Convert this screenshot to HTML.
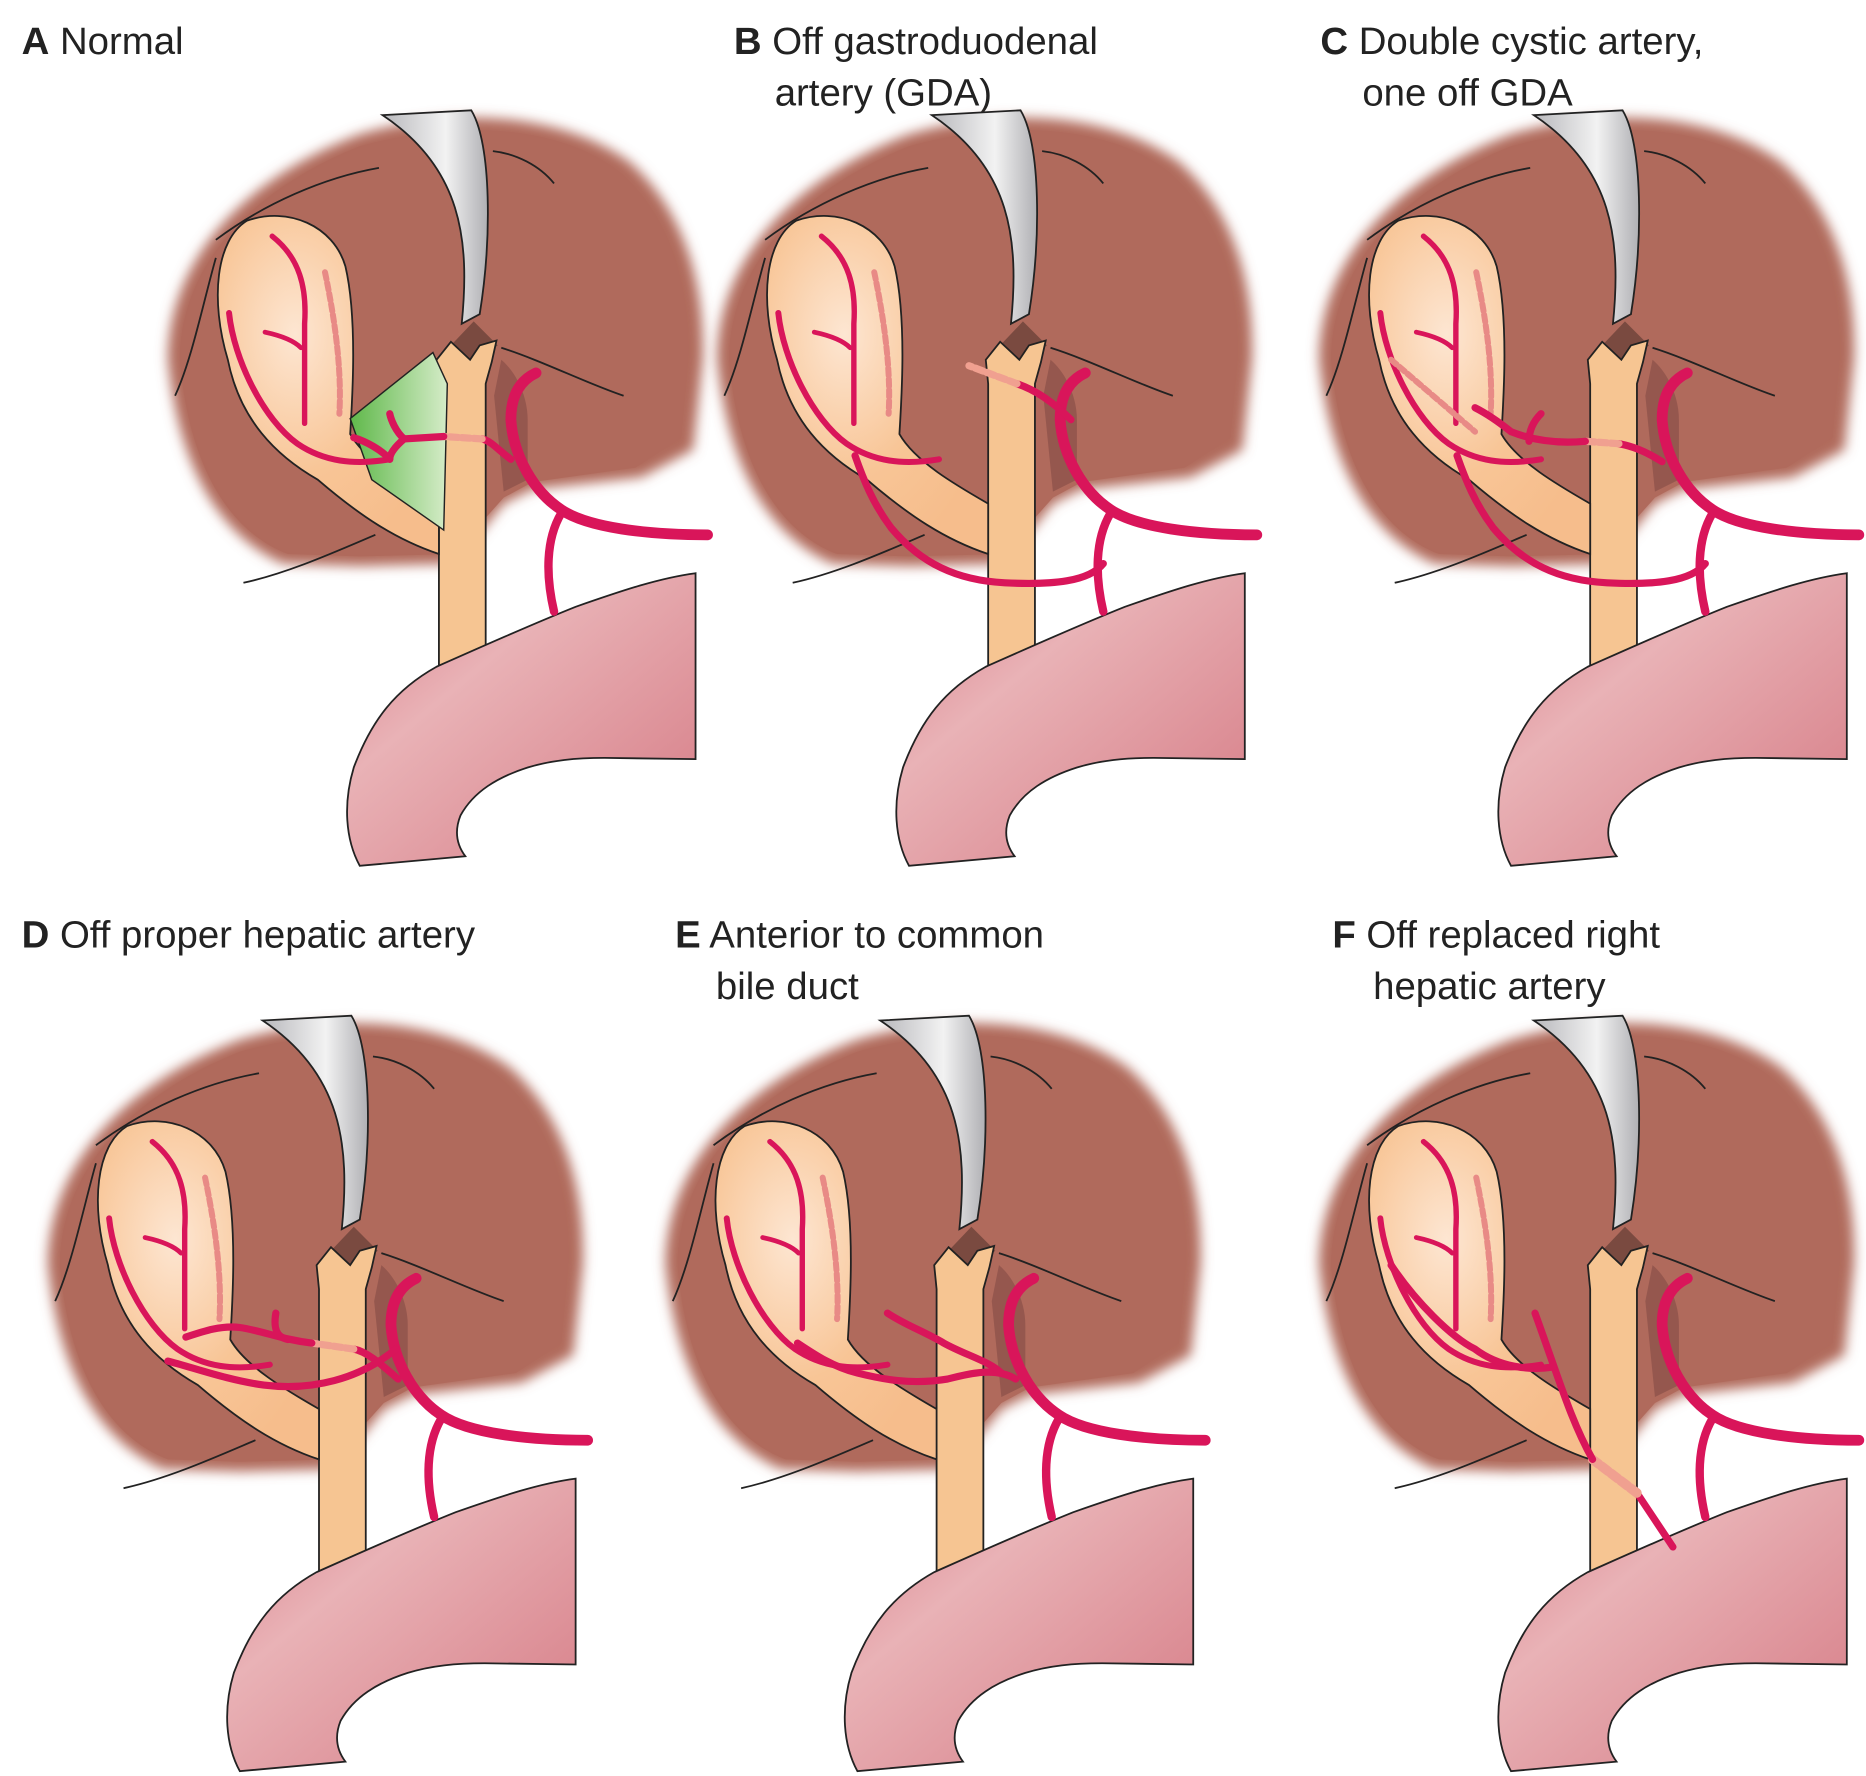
<!DOCTYPE html>
<html><head><meta charset="utf-8"><style>
html,body{margin:0;padding:0;background:#fff;}
svg{display:block;}
text{font-family:"Liberation Sans",sans-serif;font-size:32px;fill:#222;}
</style></head><body>
<svg width="1866" height="1776" viewBox="0 0 1556 1481" preserveAspectRatio="none" xmlns="http://www.w3.org/2000/svg">
<defs>
<radialGradient id="gb" cx="0.35" cy="0.35" r="0.7"><stop offset="0" stop-color="#fde6d2"/><stop offset="0.6" stop-color="#f8c596"/><stop offset="1" stop-color="#f6bd8c"/></radialGradient>
<linearGradient id="duo" x1="0" y1="0" x2="1" y2="1"><stop offset="0" stop-color="#d97c88"/><stop offset="0.35" stop-color="#e9b2b6"/><stop offset="1" stop-color="#d57a84"/></linearGradient>
<linearGradient id="ret" x1="0" y1="0" x2="1" y2="0"><stop offset="0" stop-color="#b8b8bc"/><stop offset="0.6" stop-color="#f2f2f2"/><stop offset="1" stop-color="#b0b0b4"/></linearGradient>
<linearGradient id="grn" x1="0" y1="0" x2="1" y2="0"><stop offset="0" stop-color="#5fb84a"/><stop offset="1" stop-color="#d5ecc8"/></linearGradient>
<filter id="soft" x="-10%" y="-10%" width="120%" height="120%"><feGaussianBlur stdDeviation="5"/></filter>
<g id="base">
 <path d="M140,300 C140,220 200,150 300,112 C380,88 470,95 525,135 C570,175 588,235 586,300 L578,375 L535,398 L444,408 L420,420 L380,470 L300,472 L236,470 C190,450 150,400 140,300Z" fill="#b06a5c" filter="url(#soft)"/>
 <path d="M150,300 C150,225 205,160 300,122 C380,100 465,104 515,142 C558,178 574,235 574,295 L568,365 L530,390 L444,402 L420,415 L378,462 L300,464 L240,462 C195,445 158,395 150,300Z" fill="#b06a5c"/>
 <path d="M418,290 C450,300 490,320 520,330" fill="none" stroke="#222" stroke-width="1.5"/>
 <path d="M411,126 C430,128 450,138 462,153" fill="none" stroke="#222" stroke-width="1.5"/>
 <path d="M180,200 C220,170 270,148 316,140" fill="none" stroke="#222" stroke-width="1.5"/>
 <path d="M146,330 C160,300 170,250 180,215" fill="none" stroke="#222" stroke-width="1.5"/>
 <path d="M203,486 C240,478 280,460 313,446" fill="none" stroke="#222" stroke-width="1.5"/>
 <path d="M418,300 C430,310 440,330 440,350 L440,400 L420,410 L412,330Z" fill="#8a5048" opacity="0.7"/>
 <path d="M319,96 L393,92 C410,120 410,200 400,262 L385,270 C392,200 385,140 319,96Z" fill="url(#ret)" stroke="#222" stroke-width="1.5"/>
 <path d="M376,288 L395,268 L415,288 L395,304Z" fill="#7a4a40"/>
 <path d="M364,300 L376,285 L392,300 L400,288 L414,284 L410,302 L405,320 L405,556 L366,560 L366,320Z" fill="#f6c592" stroke="#222" stroke-width="1.5"/>
 <path d="M206,184 C240,172 278,188 288,222 C298,265 294,330 292,362 C305,385 340,405 366,420 L366,462 C330,450 300,430 265,400 C230,380 200,350 190,300 C175,250 180,200 206,184Z" fill="url(#gb)" stroke="#222" stroke-width="1.5"/>
 <path d="M364,556 C400,540 440,522 480,506 C520,492 550,482 580,478 L580,633 L504,632 C480,632 460,634 440,640 C415,648 395,660 384,680 C378,695 382,706 388,714 L300,722 C288,700 286,670 295,640 C310,600 330,575 364,556Z" fill="url(#duo)" stroke="#222" stroke-width="1.5"/>
</g>
</defs>

<g id="labels">
<text x="18" y="45"><tspan font-weight="bold">A</tspan> Normal</text>
<text x="612" y="45"><tspan font-weight="bold">B</tspan> Off gastroduodenal</text>
<text x="646" y="88">artery (GDA)</text>
<text x="1101" y="45"><tspan font-weight="bold">C</tspan> Double cystic artery,</text>
<text x="1136" y="88">one off GDA</text>
<text x="18" y="790"><tspan font-weight="bold">D</tspan> Off proper hepatic artery</text>
<text x="563" y="790"><tspan font-weight="bold">E</tspan> Anterior to common</text>
<text x="597" y="833">bile duct</text>
<text x="1111" y="790"><tspan font-weight="bold">F</tspan> Off replaced right</text>
<text x="1145" y="833">hepatic artery</text>
</g>

<defs>
<g id="art" fill="none" stroke="#d9155a" stroke-linecap="round">
 <path d="M590,446 C540,446 490,440 468,425 C445,410 428,380 426,350 C426,332 432,318 447,311" stroke-width="9"/>
 <path d="M468,428 C455,450 455,480 462,510" stroke-width="7"/>
 <path d="M191,261 C195,300 220,350 248,370 C270,385 295,388 325,383" stroke-width="5"/>
 <path d="M227,197 C250,215 256,240 254,270 L254,353" stroke-width="4.5"/>
 <path d="M221,277 C235,280 245,284 251,290" stroke-width="4"/>
 <path d="M271,227 C280,270 285,310 283,345" stroke="#e88a86" stroke-width="5" stroke-dasharray="6,3"/>
</g>
</defs>

<use href="#base"/>
<path d="M292,349 L361,294 L373,320 L370,442 L310,400Z" fill="url(#grn)" stroke="#222" stroke-width="1.2"/>
<use href="#art"/>
<g fill="none" stroke="#d9155a" stroke-width="6" stroke-linecap="round">
 <path d="M426,383 C415,375 410,368 402,366"/>
 <path d="M402,366 L370,364" stroke="#f0a090" stroke-dasharray="7,3"/>
 <path d="M370,364 L337,366 C330,372 325,378 325,383"/>
 <path d="M337,366 C330,360 326,350 325,345"/>
 <path d="M325,383 C318,375 305,368 295,365"/>
</g>

<g transform="translate(458,0)">
 <use href="#base"/><use href="#art"/>
 <g fill="none" stroke="#d9155a" stroke-width="6" stroke-linecap="round">
  <path d="M435,350 C420,335 405,325 390,320"/>
  <path d="M390,320 L350,305" stroke="#f0a090" stroke-dasharray="7,3"/>
  <path d="M462,470 C450,485 420,488 380,486 C340,484 310,470 285,440 C270,420 262,400 255,380"/>
 </g>
</g>

<g transform="translate(960,0)">
 <use href="#base"/><use href="#art"/>
 <g fill="none" stroke="#d9155a" stroke-width="6" stroke-linecap="round">
  <path d="M426,385 C410,375 400,372 390,370"/>
  <path d="M390,370 L362,368" stroke="#f0a090" stroke-dasharray="7,3"/>
  <path d="M362,368 C340,370 320,368 300,360 C290,352 280,345 270,340"/>
  <path d="M325,345 C318,352 315,360 315,368"/>
  <path d="M462,470 C450,485 420,488 380,486 C340,484 310,470 285,440 C270,420 262,400 255,380"/>
  <path d="M200,300 L270,360" stroke="#e88a86" stroke-width="5" stroke-dasharray="6,3"/>
 </g>
</g>

<g transform="translate(-100,755)">
 <use href="#base"/><use href="#art"/>
 <g fill="none" stroke="#d9155a" stroke-width="6" stroke-linecap="round">
  <path d="M432,395 C415,380 405,372 395,370"/>
  <path d="M395,370 L360,365" stroke="#f0a090" stroke-dasharray="7,3"/>
  <path d="M360,365 C335,362 320,355 300,352 C285,350 270,355 255,360"/>
  <path d="M330,340 C328,352 330,360 340,362"/>
  <path d="M430,370 C400,395 360,405 320,400 C290,396 260,385 240,380"/>
 </g>
</g>

<g transform="translate(415,755)">
 <use href="#base"/><use href="#art"/>
 <g fill="none" stroke="#d9155a" stroke-width="6" stroke-linecap="round">
  <path d="M432,395 C415,385 395,390 375,395 C345,400 320,395 300,390 C280,385 265,375 250,365"/>
  <path d="M325,340 C340,350 355,355 372,365 C390,375 410,380 420,390"/>
 </g>
</g>

<g transform="translate(960,755)">
 <use href="#base"/><use href="#art"/>
 <g fill="none" stroke="#d9155a" stroke-width="6" stroke-linecap="round">
  <path d="M435,535 L405,490"/>
  <path d="M405,490 L368,462" stroke="#f0a090" stroke-width="8" stroke-dasharray="7,3"/>
  <path d="M368,462 C350,430 340,395 320,340"/>
  <path d="M335,385 C315,388 290,385 270,370 C250,360 220,330 200,300"/>
 </g>
</g>
</svg>
</body></html>
